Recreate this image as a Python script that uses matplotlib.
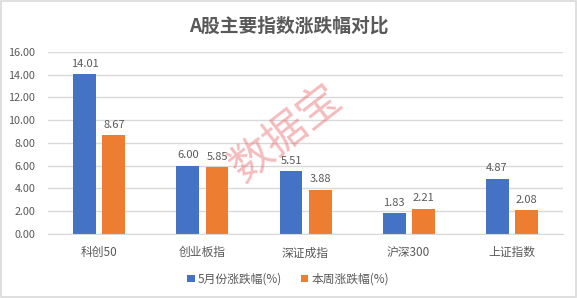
import numpy as np
import matplotlib
matplotlib.use('Agg')
import matplotlib.pyplot as plt
from matplotlib.patches import Rectangle

plt.rcParams['font.family'] = ['Noto Sans CJK SC', 'DejaVu Sans']

# Dados do gráfico
categories = ['科创50', '创业板指', '深证成指', '沪深300', '上证指数']
may_change = [14.01, 6.00, 5.51, 1.83, 4.87]
week_change = [8.67, 5.85, 3.88, 2.21, 2.08]
series_names = ['5月份涨跌幅(%)', '本周涨跌幅(%)']
title = 'A股主要指数涨跌幅对比'
watermark = '数据宝'

text_color = '#595959'
blue = '#4472C4'
orange = '#ED7D31'

fig = plt.figure(figsize=(5.77, 2.98), dpi=100)
fig.patch.set_facecolor('white')
fig.patches.append(Rectangle((0.001, 0.002), 0.997, 0.995, transform=fig.transFigure,
                             fill=False, edgecolor='#D9D9D9', linewidth=1.2))

ax = fig.add_axes([0.083, 0.215, 0.893, 0.611])

x = np.arange(len(categories))
offset = 0.141
width = 0.223
b1 = ax.bar(x - offset, may_change, width, color=blue, label=series_names[0], zorder=3)
b2 = ax.bar(x + offset, week_change, width, color=orange, label=series_names[1], zorder=3)

# Rótulos de dados
for bars, vals in [(b1, may_change), (b2, week_change)]:
    for bar, v in zip(bars, vals):
        ax.annotate(f'{v:.2f}', (bar.get_x() + bar.get_width() / 2, v),
                    xytext=(0, 4), textcoords='offset points', ha='center', va='bottom',
                    fontsize=8, color=text_color)

ax.set_xlim(-0.5, len(categories) - 0.5)
ax.set_ylim(0, 16)
ax.set_yticks(np.arange(0, 17, 2))
ax.set_yticklabels([f'{t:.2f}' for t in np.arange(0, 17, 2)])
ax.set_xticks(x)
ax.set_xticklabels(categories)
ax.tick_params(axis='y', length=0, pad=9, labelsize=7.8, labelcolor=text_color)
ax.tick_params(axis='x', length=0, pad=9, labelsize=8.5, labelcolor=text_color)
ax.grid(axis='y', color='#D9D9D9', linewidth=1, zorder=0)
for s in ['top', 'right', 'left']:
    ax.spines[s].set_visible(False)
ax.spines['bottom'].set_color('#D9D9D9')
ax.spines['bottom'].set_zorder(4)

fig.text(0.5, 0.911, title, ha='center', va='center', fontsize=13.5,
         fontweight='bold', color=text_color)

fig.legend(loc='center', bbox_to_anchor=(0.5, 0.064), ncol=2, frameon=False,
           fontsize=8.5, labelcolor=text_color, handlelength=0.6, handleheight=0.6,
           handletextpad=0.3, columnspacing=1.6)

# Marca d'água
fig.text(0.497, 0.55, watermark, ha='center', va='center', rotation=38,
         fontsize=31, fontweight='light', color='#E8585A', alpha=0.4, zorder=10)

plt.savefig('out.png', dpi=100)
